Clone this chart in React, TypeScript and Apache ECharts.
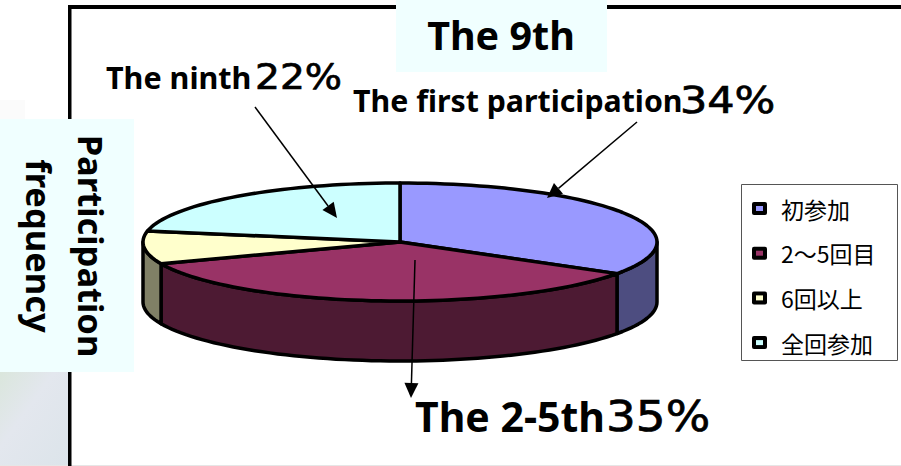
import React, { useEffect, useRef } from "react";
import * as echarts from "echarts";

const categories = ["初参加", "2～5回目", "6回以上", "全回参加"];
const values = [34, 35, 9, 22];
const topColors = ["#9999FF", "#993366", "#FFFFCC", "#CCFFFF"];
const wallColors = ["#4D4D80", "#4D1A33", "#808066", "#668080"];
const labelTexts = [
  { name: "The ninth", pct: "22%", x: 106, y: 77, px: 255, a: 30.5, b: 35, s: 1.12 },
  { name: "The first participation", pct: "34%", x: 353, y: 100, px: 680, a: 30.3, b: 37, s: 1.16 },
  { name: "The 2-5th", pct: "35%", x: 415, y: 416, px: 606, a: 41, b: 43, s: 1.09 },
];
const arrows = [
  [255, 107, 337, 218],
  [637, 122, 547, 198],
  [415, 260, 411, 398],
];

const CX = 400, CY = 242, RX = 257, RY = 59, DEPTH = 60;
const LEGEND_TOP = 194.5, LEGEND_PITCH = 44.7;
const total = values.reduce((a, b) => a + b, 0);
const pt = (deg: number, dy = 0): number[] => {
  const r = (deg * Math.PI) / 180;
  return [CX + RX * Math.sin(r), CY - RY * Math.cos(r) + dy];
};
const arc = (a: number, b: number, dy = 0) => {
  const pts: number[][] = [];
  for (let d = a; d < b; d += 2) pts.push(pt(d, dy));
  pts.push(pt(b, dy));
  return pts;
};

function makeOption() {
  let cum = 0;
  const series = categories.map((name, i) => {
    const start = (cum / total) * 360;
    cum += values[i];
    const end = (cum / total) * 360;
    return {
      type: "custom",
      name,
      coordinateSystem: "none",
      data: [[values[i]]],
      silent: true,
      z: 2,
      itemStyle: { color: topColors[i] },
      renderItem: () => {
        const children: any[] = [];
        const w0 = Math.max(start, 90), w1 = Math.min(end, 270);
        if (w1 > w0) {
          children.push({
            type: "polygon",
            shape: { points: [...arc(w0, w1), ...arc(w0, w1, DEPTH).reverse()] },
            style: { fill: wallColors[i], stroke: "#000", lineWidth: 3.5, lineJoin: "round" },
          });
        }
        children.push({
          type: "polygon",
          shape: { points: [[CX, CY], ...arc(start, end)] },
          style: { fill: topColors[i], stroke: "#000", lineWidth: 3.5, lineJoin: "round" },
        });
        return { type: "group", children };
      },
    };
  });

  const graphics: any[] = [
    { type: "rect", z: 0, shape: { x: 0, y: 372, width: 68, height: 94 },
      style: { fill: new echarts.graphic.LinearGradient(0, 0, 1, 1, [
        { offset: 0, color: "#DAE6DC" }, { offset: 0.4, color: "#E3E7EE" }, { offset: 1, color: "#DCE4EA" },
      ]) } },
    { type: "rect", z: 0, shape: { x: 0, y: 100, width: 25, height: 20 }, style: { fill: "#FBFBFB" } },
    { type: "rect", z: 0, shape: { x: 0, y: 465, width: 901, height: 1 }, style: { fill: "#E6E6E6" } },
    { type: "rect", z: 1, shape: { x: 68, y: 5, width: 833, height: 4 }, style: { fill: "#000" } },
    { type: "rect", z: 1, shape: { x: 68, y: 5, width: 3.5, height: 461 }, style: { fill: "#000" } },
    { type: "rect", z: 1, shape: { x: 396, y: 0, width: 211, height: 72 }, style: { fill: "#F0FFFF" } },
    { type: "rect", z: 1, shape: { x: 0, y: 119, width: 134, height: 253 }, style: { fill: "#F0FFFF" } },
    { type: "rect", z: 1, shape: { x: 741.5, y: 184.5, width: 156, height: 176 },
      style: { fill: "#FFF", stroke: "#555", lineWidth: 1 } },
    { type: "text", z: 5, x: 501, y: 35,
      style: { text: "The 9th", fontSize: 39.5, fontWeight: "bold", fontFamily: "Noto Sans", fill: "#000",
        align: "center", verticalAlign: "middle", textAlign: "center", textVerticalAlign: "middle" } },
    { type: "text", z: 5, x: 65, y: 246, rotation: -Math.PI / 2,
      style: { text: "Participation\nfrequency", fontSize: 34.5, lineHeight: 52, fontWeight: "bold", fontFamily: "Noto Sans", fill: "#000",
        align: "center", verticalAlign: "middle", textAlign: "center", textVerticalAlign: "middle" } },
  ];
  categories.forEach((_, i) => {
    graphics.push({ type: "rect", z: 3,
      shape: { x: 752, y: LEGEND_TOP + 14 + i * LEGEND_PITCH - 6.5, width: 15, height: 13, r: 2 },
      style: { fill: "#000" } });
  });
  labelTexts.forEach((l) => {
    graphics.push({
      type: "text", z: 5, x: l.x, y: l.y,
      style: { text: l.name, fontSize: l.a, fontWeight: "bold", fontFamily: "Noto Sans", fill: "#000",
        align: "left", verticalAlign: "middle", textAlign: "left", textVerticalAlign: "middle" },
    });
    graphics.push({
      type: "text", z: 5, x: l.px, y: l.y, scaleX: l.s,
      style: { text: l.pct, fontSize: l.b, fontFamily: "DejaVu Sans", fill: "#000", stroke: "#000", lineWidth: 0.7,
        align: "left", verticalAlign: "middle", textAlign: "left", textVerticalAlign: "middle" },
    });
  });
  arrows.forEach(([x1, y1, x2, y2]) => {
    const ang = Math.atan2(y2 - y1, x2 - x1), L = 15, W = 7;
    const bx = x2 - L * Math.cos(ang), by = y2 - L * Math.sin(ang);
    const nx = -Math.sin(ang) * W, ny = Math.cos(ang) * W;
    graphics.push({ type: "line", z: 6, shape: { x1, y1, x2: bx, y2: by }, style: { stroke: "#000", lineWidth: 1.5 } });
    graphics.push({ type: "polygon", z: 6, shape: { points: [[x2, y2], [bx + nx, by + ny], [bx - nx, by - ny]] }, style: { fill: "#000" } });
  });

  return {
    animation: false,
    backgroundColor: "#fff",
    legend: {
      orient: "vertical", left: 756, top: LEGEND_TOP, padding: 0, itemGap: LEGEND_PITCH - 28, itemWidth: 7, itemHeight: 5,
      icon: "rect", selectedMode: false, z: 4,
      data: categories,
      itemStyle: { borderWidth: 0 },
      textStyle: { fontSize: 23, fontFamily: "Noto Sans CJK JP", color: "#000", padding: [0, 0, 0, 13], lineHeight: 28 },
    },
    graphic: { elements: graphics },
    series,
  };
}

export default function App() {
  const ref = useRef<HTMLDivElement>(null);
  useEffect(() => {
    const chart = echarts.init(ref.current!, undefined, { renderer: "svg" });
    chart.setOption(makeOption() as any);
    return () => chart.dispose();
  }, []);
  return <div ref={ref} style={{ position: "absolute", left: 0, top: 0, width: 901, height: 466 }} />;
}
